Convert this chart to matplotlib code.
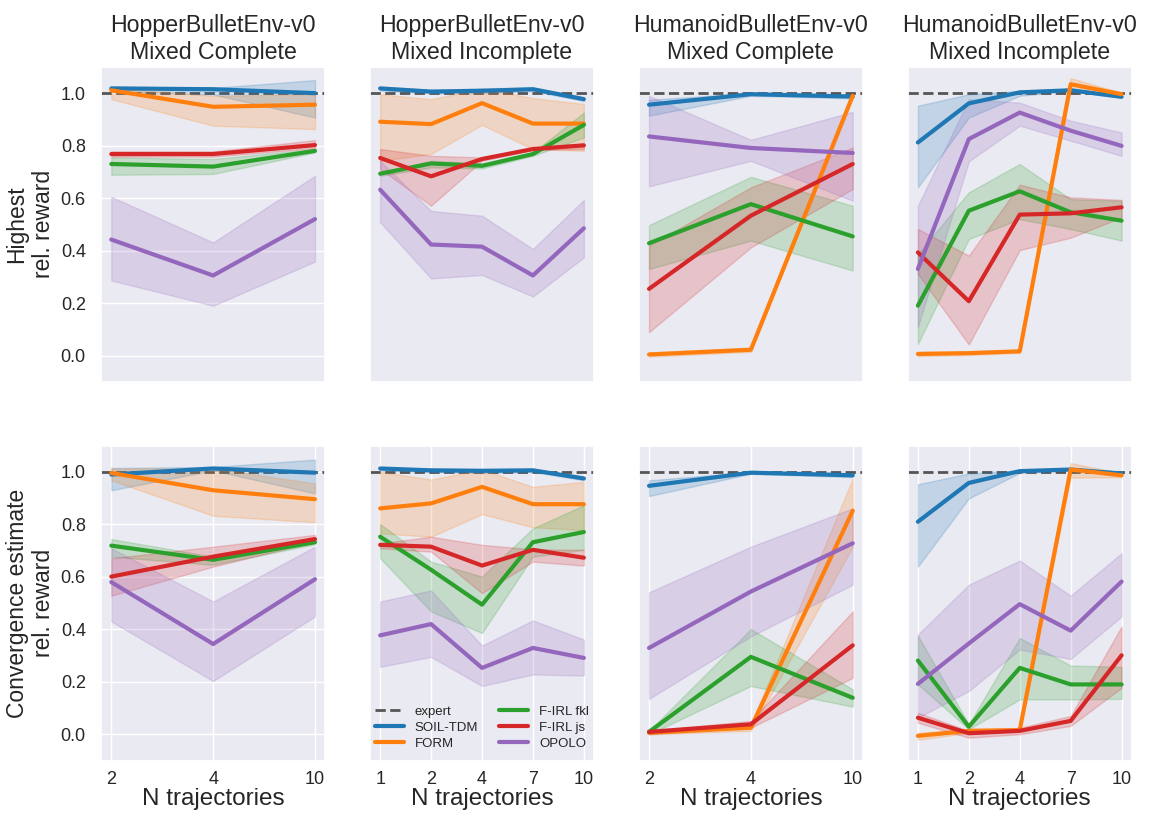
import matplotlib
matplotlib.use("Agg")
import matplotlib.pyplot as plt
import seaborn as sns
import numpy as np

# methods, in tab10 order
methods = ["SOIL-TDM", "FORM", "F-IRL fkl", "F-IRL js", "OPOLO"]
colors = ["tab:blue", "tab:orange", "tab:green", "tab:red", "tab:purple"]

titles = ["HopperBulletEnv-v0\nMixed Complete", "HopperBulletEnv-v0\nMixed Incomplete",
          "HumanoidBulletEnv-v0\nMixed Complete", "HumanoidBulletEnv-v0\nMixed Incomplete"]
row_labels = ["Highest\nrel. reward", "Convergence estimate\nrel. reward"]
n_traj = [[2, 4, 10], [1, 2, 4, 7, 10], [2, 4, 10], [1, 2, 4, 7, 10]]

# ---- top row: highest rel. reward (rows = methods) ----
hc_best = [[1.018, 1.015, 1.0], [1.011, 0.948, 0.956], [0.730, 0.720, 0.780],
           [0.768, 0.768, 0.802], [0.442, 0.305, 0.520]]
hc_best_lo = [[1.005, 0.995, 0.907], [0.977, 0.876, 0.863], [0.689, 0.692, 0.774],
              [0.758, 0.758, 0.790], [0.286, 0.190, 0.358]]
hc_best_hi = [[1.025, 1.02, 1.05], [1.02, 0.99, 0.996], [0.755, 0.749, 0.787],
              [0.778, 0.778, 0.821], [0.605, 0.431, 0.685]]

hi_best = [[1.018, 1.006, 1.009, 1.015, 0.977], [0.891, 0.882, 0.962, 0.884, 0.884],
           [0.693, 0.732, 0.723, 0.768, 0.879], [0.753, 0.683, 0.749, 0.787, 0.801],
           [0.632, 0.423, 0.415, 0.305, 0.485]]
hi_best_lo = [[1.01, 1.0, 1.0, 1.008, 0.97], [0.742, 0.768, 0.879, 0.787, 0.780],
              [0.685, 0.717, 0.713, 0.761, 0.831], [0.711, 0.571, 0.742, 0.783, 0.787],
              [0.508, 0.294, 0.307, 0.225, 0.374]]
hi_best_hi = [[1.025, 1.012, 1.018, 1.022, 0.985], [0.996, 0.977, 1.018, 0.981, 0.959],
              [0.698, 0.742, 0.732, 0.774, 0.926], [0.787, 0.761, 0.755, 0.791, 0.808],
              [0.742, 0.551, 0.533, 0.406, 0.593]]

uc_best = [[0.956, 0.996, 0.987], [0.004, 0.022, 0.990], [0.428, 0.577, 0.454],
           [0.254, 0.533, 0.730], [0.835, 0.791, 0.772]]
uc_best_lo = [[0.914, 0.990, 0.980], [-0.004, 0.014, 0.982], [0.330, 0.438, 0.324],
              [0.089, 0.412, 0.635], [0.645, 0.742, 0.590]]
uc_best_hi = [[0.975, 1.0, 0.995], [0.012, 0.030, 0.998], [0.497, 0.681, 0.571],
              [0.419, 0.641, 0.793], [0.990, 0.822, 0.929]]

ui_best = [[0.812, 0.961, 1.003, 1.011, 0.986], [0.006, 0.009, 0.016, 1.034, 0.996],
           [0.190, 0.552, 0.626, 0.546, 0.514], [0.393, 0.207, 0.537, 0.542, 0.565],
           [0.330, 0.825, 0.926, 0.857, 0.799]]
ui_best_lo = [[0.641, 0.907, 0.990, 1.008, 0.983], [-0.002, 0.002, 0.010, 1.015, 0.990],
              [0.044, 0.444, 0.520, 0.482, 0.438], [0.311, 0.042, 0.402, 0.449, 0.527],
              [0.108, 0.740, 0.876, 0.819, 0.761]]
ui_best_hi = [[0.952, 0.996, 1.008, 1.015, 0.996], [0.014, 0.016, 0.022, 1.057, 1.002],
              [0.387, 0.622, 0.730, 0.596, 0.590], [0.482, 0.381, 0.651, 0.603, 0.593],
              [0.571, 0.977, 0.964, 0.895, 0.850]]

# ---- bottom row: convergence estimate rel. reward ----
hc_conv = [[0.990, 1.013, 0.997], [0.996, 0.930, 0.896], [0.719, 0.665, 0.732],
           [0.601, 0.677, 0.744], [0.580, 0.344, 0.591]]
hc_conv_lo = [[0.930, 1.006, 0.918], [0.968, 0.833, 0.808], [0.677, 0.646, 0.724],
              [0.528, 0.639, 0.734], [0.430, 0.203, 0.449]]
hc_conv_hi = [[1.015, 1.019, 1.047], [1.013, 1.013, 0.956], [0.744, 0.677, 0.741],
              [0.671, 0.715, 0.760], [0.709, 0.506, 0.715]]

hi_conv = [[1.013, 1.006, 1.004, 1.006, 0.975], [0.861, 0.880, 0.943, 0.877, 0.877],
           [0.753, 0.627, 0.494, 0.732, 0.771], [0.722, 0.715, 0.643, 0.703, 0.673],
           [0.377, 0.420, 0.253, 0.329, 0.291]]
hi_conv_lo = [[1.006, 1.0, 0.996, 1.0, 0.968], [0.766, 0.753, 0.839, 0.789, 0.778],
              [0.671, 0.468, 0.386, 0.677, 0.703], [0.709, 0.696, 0.538, 0.658, 0.643],
              [0.257, 0.295, 0.184, 0.228, 0.224]]
hi_conv_hi = [[1.018, 1.012, 1.012, 1.012, 0.982], [1.0, 0.971, 1.009, 0.943, 0.962],
              [0.801, 0.658, 0.601, 0.785, 0.873], [0.728, 0.753, 0.722, 0.705, 0.703],
              [0.506, 0.548, 0.338, 0.434, 0.361]]

uc_conv = [[0.947, 0.997, 0.987], [0.006, 0.025, 0.852], [0.009, 0.295, 0.139],
           [0.009, 0.038, 0.339], [0.329, 0.544, 0.728]]
uc_conv_lo = [[0.908, 0.993, 0.980], [0.0, 0.013, 0.715], [0.0, 0.184, 0.105],
              [0.0, 0.025, 0.215], [0.135, 0.373, 0.570]]
uc_conv_hi = [[0.968, 1.0, 0.995], [0.013, 0.038, 0.975], [0.013, 0.401, 0.171],
              [0.013, 0.051, 0.468], [0.541, 0.715, 0.861]]

ui_conv = [[0.810, 0.958, 1.003, 1.009, 0.994], [-0.006, 0.013, 0.016, 1.009, 0.987],
           [0.281, 0.029, 0.253, 0.190, 0.190], [0.063, 0.004, 0.013, 0.051, 0.301],
           [0.192, 0.346, 0.496, 0.395, 0.582]]
ui_conv_lo = [[0.639, 0.899, 0.996, 1.006, 0.987], [-0.021, 0.005, 0.010, 0.978, 0.980],
              [0.190, 0.019, 0.133, 0.133, 0.135], [0.044, -0.013, 0.0, 0.032, 0.177],
              [0.063, 0.165, 0.323, 0.287, 0.449]]
ui_conv_hi = [[0.953, 0.994, 1.006, 1.013, 1.0], [0.006, 0.020, 0.022, 1.034, 0.995],
              [0.376, 0.038, 0.367, 0.262, 0.257], [0.082, 0.013, 0.025, 0.070, 0.411],
              [0.380, 0.570, 0.662, 0.528, 0.690]]

panels = [
    [(hc_best, hc_best_lo, hc_best_hi), (hi_best, hi_best_lo, hi_best_hi),
     (uc_best, uc_best_lo, uc_best_hi), (ui_best, ui_best_lo, ui_best_hi)],
    [(hc_conv, hc_conv_lo, hc_conv_hi), (hi_conv, hi_conv_lo, hi_conv_hi),
     (uc_conv, uc_conv_lo, uc_conv_hi), (ui_conv, ui_conv_lo, ui_conv_hi)],
]

sns.set_theme(style="darkgrid")
plt.rcParams["font.family"] = ["Liberation Sans", "DejaVu Sans"]

fig, axes = plt.subplots(2, 4, figsize=(11.49, 8.16), dpi=100)
fig.subplots_adjust(left=0.088, right=0.985, top=0.918, bottom=0.068,
                    wspace=0.2, hspace=0.203)

for r in range(2):
    for c in range(4):
        ax = axes[r, c]
        mean, lo, hi = panels[r][c]
        x = np.arange(len(n_traj[c]))
        ax.axhline(1.0, color="#555555", ls="--", lw=2, label="expert", zorder=1)
        for m in range(len(methods)):
            ax.fill_between(x, lo[m], hi[m], color=colors[m], alpha=0.2, lw=1)
            ax.plot(x, mean[m], color=colors[m], lw=3, label=methods[m])
        ax.set_ylim(-0.1, 1.1)
        ax.set_xlim(-0.05 * (len(x) - 1), (len(x) - 1) * 1.05)
        ax.tick_params(axis="x", pad=1.5)
        ax.tick_params(axis="y", pad=5)
        if c == 0:
            ax.set_yticks(np.arange(0, 1.01, 0.2))
            ax.set_yticklabels(["%.1f" % v for v in np.arange(0, 1.01, 0.2)], fontsize=13)
            ax.set_ylabel(row_labels[r], fontsize=16.5, labelpad=4)
        else:
            ax.set_yticks([])
        if r == 1:
            ax.set_xticks(x)
            ax.set_xticklabels([str(n) for n in n_traj[c]], fontsize=13)
            ax.set_xlabel("N trajectories", fontsize=17.5, labelpad=0)
        else:
            ax.set_xticks([])
            ax.set_title(titles[c], fontsize=16.7, pad=6)

axes[1, 1].legend(loc="lower center", ncol=2, frameon=False, fontsize=9.5,
                  handlelength=2.2, columnspacing=1.6, labelspacing=0.3,
                  borderaxespad=0.4)

plt.savefig("out.png", dpi=100)
